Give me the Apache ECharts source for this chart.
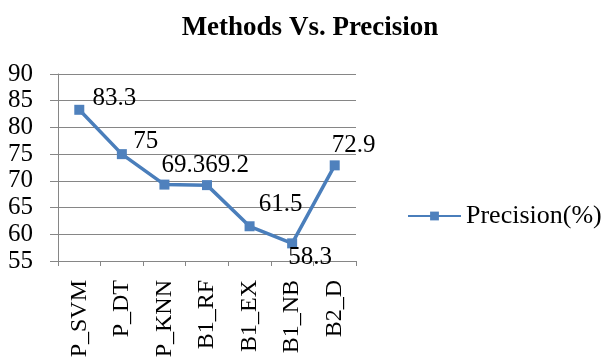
<!DOCTYPE html>
<html>
<head>
<meta charset="utf-8">
<script src="https://cdn.jsdelivr.net/npm/echarts@6/dist/echarts.min.js"></script>
<style>html,body{margin:0;padding:0;background:#fff}#c{width:606px;height:361px}</style>
</head>
<body>
<div id="c"></div>
<script>
const categories = ['P_SVM', 'P_DT', 'P_KNN', 'B1_RF', 'B1_EX', 'B1_NB', 'B2_D'];
const precision = [83.3, 75, 69.3, 69.2, 61.5, 58.3, 72.9];
const seriesName = 'Precision(%)';
const titleText = 'Methods Vs. Precision';

const FONT = '"Liberation Serif", "Times New Roman", serif';
const labelOffsets = [[35, -11], [24, -13], [19, -19], [20, -20], [31, -22], [18, 14], [19, -20]];

const chart = echarts.init(document.getElementById('c'));
chart.setOption({
  animation: false,
  backgroundColor: '#fff',
  title: {
    text: titleText, left: 305, top: 10, textAlign: 'center',
    textStyle: { fontFamily: FONT, fontWeight: 'bold', fontSize: 27, color: '#000' }
  },
  legend: {
    data: [seriesName], left: 402, top: 198, itemWidth: 53, itemHeight: 11, itemGap: 5,
    textStyle: { fontFamily: FONT, fontSize: 26, color: '#000' }
  },
  grid: { left: 58, right: 250, top: 74, bottom: 100, containLabel: false },
  xAxis: {
    type: 'category', data: categories, boundaryGap: true,
    axisLine: { lineStyle: { color: '#868686', width: 1 } },
    axisTick: { show: true, length: 5, alignWithLabel: false, lineStyle: { color: '#868686' } },
    axisLabel: { rotate: 90, margin: 19, fontFamily: FONT, fontSize: 24, color: '#000', interval: 0 }
  },
  yAxis: {
    type: 'value', min: 55, max: 90, interval: 5,
    axisLine: { show: true, lineStyle: { color: '#868686', width: 1 } },
    axisTick: { show: true, length: 8, lineStyle: { color: '#868686' } },
    splitLine: { show: true, lineStyle: { color: '#868686', width: 1 } },
    axisLabel: { margin: 25, fontFamily: FONT, fontSize: 25, color: '#000' }
  },
  series: [{
    name: seriesName, type: 'line', data: precision.map((v, i) => ({
      value: v,
      label: { offset: labelOffsets[i] }
    })),
    symbol: 'rect', symbolSize: 10,
    lineStyle: { color: '#4A7EBB', width: 3.5 },
    itemStyle: { color: '#4F81BD' },
    label: { show: true, position: 'inside', fontFamily: FONT, fontSize: 25, color: '#000' }
  }]
});
</script>
</body>
</html>
